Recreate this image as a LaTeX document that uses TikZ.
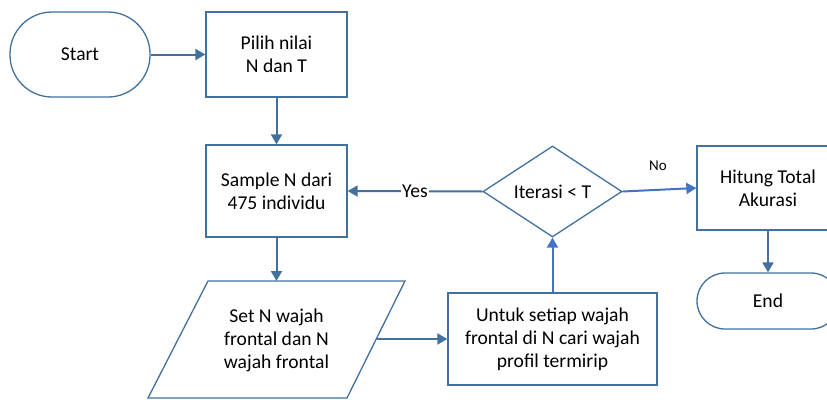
\documentclass[tikz,border=0pt]{standalone}
\usepackage{fontspec}
\setmainfont{Carlito}
\usetikzlibrary{shapes.geometric,arrows.meta}
\definecolor{steel}{HTML}{41719C}
\definecolor{bright}{HTML}{4472C4}
\begin{document}
\begin{tikzpicture}[x=1pt,y=-1pt,
  every node/.style={font=\fontsize{19.6}{23}\selectfont, text=black},
  box/.style={draw=steel, line width=1.3pt, fill=white, align=center, inner sep=0pt},
  term/.style={box, rounded corners=#1},
  conn/.style={draw=steel, line width=2pt, -{Triangle[length=10pt,width=11pt]}},
  connb/.style={draw=bright, line width=2pt, -{Triangle[length=10pt,width=11pt]}}]
\useasboundingbox (0,0) rectangle (827,399);
\clip (0,0) rectangle (827,399);
% nodes
\node[term=42pt, minimum width=140pt, minimum height=85pt] (start) at (80,54.5) {Start};
\node[box, minimum width=141pt, minimum height=85pt] (pilih) at (276.5,54.5) {Pilih nilai\\N dan T};
\node[box, minimum width=141pt, minimum height=92pt] (sample) at (276.5,191) {Sample N dari\\475 individu};
% parallelogram
\coordinate (p1) at (148,398);
\coordinate (p2) at (208,281);
\coordinate (p3) at (405,281);
\coordinate (p4) at (347,398);
\draw[steel, line width=1.3pt, fill=white] (p1) -- (p2) -- (p3) -- (p4) -- cycle;
\node[align=center, inner sep=0pt] (setn) at (276.5,340) {Set N wajah\\frontal dan N\\wajah frontal};
\coordinate (setnE) at (377,339);
\coordinate (setnN) at (276.5,281);
\node[box, minimum width=209pt, minimum height=92pt] (untuk) at (552.5,339) {Untuk setiap wajah\\frontal di N cari wajah\\profil termirip};
\node[box, shape=diamond, minimum width=139pt, minimum height=91pt, aspect=1.53] (iter) at (552.5,191.5) {Iterasi {<} T};
\node[box, minimum width=142pt, minimum height=84pt] (hitung) at (768,188) {Hitung Total\\Akurasi};
\node[term=28pt, minimum width=142pt, minimum height=56pt] (end) at (768,301) {End};
% connectors
\draw[conn] (start.east) -- (pilih.west);
\draw[conn] (pilih.south) -- (sample.north);
\draw[conn] (sample.south) -- (setnN);
\draw[conn] (setnE) -- (untuk.west);
\draw[connb] (untuk.north) -- (iter.south);
\draw[conn] (iter.west) -- node[fill=white, inner sep=1pt] (yes) {Yes} (sample.east);
\draw[connb] (iter.east) -- (hitung.west);
\node[font=\fontsize{15}{18}\selectfont] (no) at (658,166) {No};
\draw[conn] (hitung.south) -- (end.north);
\end{tikzpicture}
\end{document}
